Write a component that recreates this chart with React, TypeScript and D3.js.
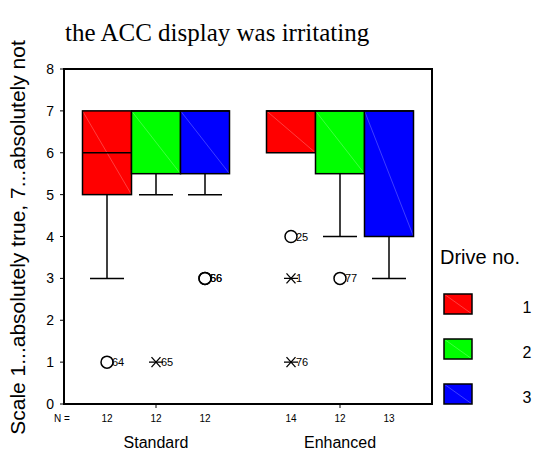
import React from "react";
import * as d3 from "d3";

const groups = ["Standard", "Enhanced"];
const drives = ["1", "2", "3"];
const driveColors = ["#ff0000", "#00ff00", "#0000ff"];
const yTicks = [0, 1, 2, 3, 4, 5, 6, 7, 8];

const boxGroup = ["Standard", "Standard", "Standard", "Enhanced", "Enhanced", "Enhanced"];
const boxDrive = ["1", "2", "3", "1", "2", "3"];
const boxQ1 = [5, 5.5, 5.5, 6, 5.5, 4];
const boxMedian = [6, 7, 7, 7, 7, 7];
const boxQ3 = [7, 7, 7, 7, 7, 7];
const whiskerLow = [3, 5, 5, 6, 4, 3];
const whiskerHigh = [7, 7, 7, 7, 7, 7];
const boxN = [12, 12, 12, 14, 12, 13];

const outlierBox = [0, 1, 2, 2, 3, 3, 3, 4];
const outlierValue = [1, 1, 3, 3, 4, 3, 1, 3];
const outlierType = ["o", "*", "o", "o", "o", "*", "*", "o"];
const outlierLabel = ["64", "65", "56", "66", "25", "1", "76", "77"];

const W = 534;
const H = 456;
const left = 64, right = 432, top = 69, bottom = 404;

export default function App() {
  const y = d3.scaleLinear().domain([0, 8]).range([bottom, top]);
  const xg = d3.scalePoint<string>().domain(groups).range([left, right]).padding(0.5);
  const xd = d3.scaleBand<string>().domain(drives).range([-73.5, 73.5]).padding(0);
  const bw = xd.bandwidth();
  const capW = 34;
  const sans = "'Liberation Sans', Arial, sans-serif";

  const boxes = boxGroup.map((g, i) => {
    const x0 = (xg(g) as number) + (xd(boxDrive[i]) as number);
    return { x0, cx: x0 + bw / 2, i, color: driveColors[drives.indexOf(boxDrive[i])] };
  });

  return (
    <svg width={W} height={H} style={{ position: "absolute", left: 0, top: 0, background: "#fff" }}>
      <rect x={0} y={0} width={W} height={H} fill="#fff" />
      <text x={65} y={40.5} fontFamily="'Liberation Serif', 'Times New Roman', serif" fontSize={25} fill="#000">
        the ACC display was irritating
      </text>
      <text
        transform={`translate(25,${(bottom + top) / 2 + 1}) rotate(-90)`}
        textAnchor="middle"
        fontFamily={sans}
        fontSize={21}
        fill="#000"
      >
        Scale 1...absolutely true, 7...absolutely not
      </text>

      {/* y ticks */}
      {yTicks.map((t) => (
        <g key={t}>
          <line x1={left - 4} x2={left} y1={y(t)} y2={y(t)} stroke="#000" strokeWidth={1} />
          <text x={54} y={y(t) + 5} textAnchor="end" fontFamily={sans} fontSize={14} fill="#000">
            {t}
          </text>
        </g>
      ))}

      {/* boxes */}
      {boxes.map(({ x0, cx, i, color }) => (
        <g key={i}>
          {whiskerLow[i] < boxQ1[i] && (
            <>
              <line x1={cx} x2={cx} y1={y(boxQ1[i])} y2={y(whiskerLow[i])} stroke="#000" strokeWidth={1.5} />
              <line x1={cx - capW / 2} x2={cx + capW / 2} y1={y(whiskerLow[i])} y2={y(whiskerLow[i])} stroke="#000" strokeWidth={1.5} />
            </>
          )}
          {whiskerHigh[i] > boxQ3[i] && (
            <>
              <line x1={cx} x2={cx} y1={y(boxQ3[i])} y2={y(whiskerHigh[i])} stroke="#000" strokeWidth={1.5} />
              <line x1={cx - capW / 2} x2={cx + capW / 2} y1={y(whiskerHigh[i])} y2={y(whiskerHigh[i])} stroke="#000" strokeWidth={1.5} />
            </>
          )}
          <rect x={x0} y={y(boxQ3[i])} width={bw} height={y(boxQ1[i]) - y(boxQ3[i])} fill={color} stroke="none" />
          <line x1={x0} y1={y(boxQ3[i])} x2={x0 + bw} y2={y(boxQ1[i])} stroke="#fff" strokeOpacity={0.35} strokeWidth={0.7} />
          <rect x={x0} y={y(boxQ3[i])} width={bw} height={y(boxQ1[i]) - y(boxQ3[i])} fill="none" stroke="#000" strokeWidth={1.5} />
          <line x1={x0} x2={x0 + bw} y1={y(boxMedian[i])} y2={y(boxMedian[i])} stroke="#000" strokeWidth={1.5} />
          <text x={cx} y={421.5} textAnchor="middle" fontFamily={sans} fontSize={10} fill="#000">
            {boxN[i]}
          </text>
        </g>
      ))}

      {/* outliers */}
      {outlierBox.map((b, k) => {
        const cx = boxes[b].cx;
        const cy = y(outlierValue[k]);
        return (
          <g key={k}>
            {outlierType[k] === "o" ? (
              <circle cx={cx} cy={cy} r={6} fill="none" stroke="#000" strokeWidth={1.5} />
            ) : (
              <g stroke="#000" strokeWidth={1.3}>
                <line x1={cx - 7} x2={cx + 7} y1={cy} y2={cy} />
                <line x1={cx - 4.5} x2={cx + 4.5} y1={cy - 5} y2={cy + 5} />
                <line x1={cx - 4.5} x2={cx + 4.5} y1={cy + 5} y2={cy - 5} />
              </g>
            )}
            <text x={cx + 5} y={cy + 4} fontFamily={sans} fontSize={11} fill="#000">
              {outlierLabel[k]}
            </text>
          </g>
        );
      })}

      {/* frame */}
      <rect x={left} y={top} width={right - left} height={bottom - top} fill="none" stroke="#000" strokeWidth={2} />
      {groups.map((g) => (
        <g key={g}>
          <line x1={xg(g)} x2={xg(g)} y1={bottom} y2={bottom + 4} stroke="#000" strokeWidth={1} />
          <text x={xg(g)} y={448} textAnchor="middle" fontFamily={sans} fontSize={16} fill="#000">
            {g}
          </text>
        </g>
      ))}
      <text x={54} y={421.5} fontFamily={sans} fontSize={10} fill="#000">N =</text>

      {/* legend */}
      <text x={440} y={264} fontFamily={sans} fontSize={20} fill="#000">Drive no.</text>
      {drives.map((d, k) => {
        const ly = 294 + k * 45;
        return (
          <g key={d}>
            <rect x={444} y={ly} width={28} height={20} fill={driveColors[k]} />
            <line x1={444} y1={ly} x2={472} y2={ly + 20} stroke="#fff" strokeOpacity={0.35} strokeWidth={0.7} />
            <rect x={444} y={ly} width={28} height={20} fill="none" stroke="#000" strokeWidth={1.5} />
            <text x={527} y={ly + 19} textAnchor="middle" fontFamily={sans} fontSize={16} fill="#000">
              {d}
            </text>
          </g>
        );
      })}
    </svg>
  );
}
